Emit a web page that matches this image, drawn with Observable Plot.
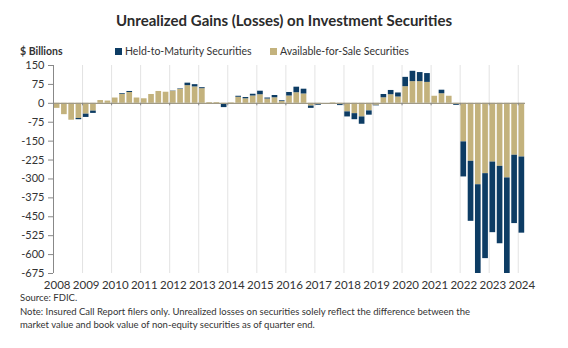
<!DOCTYPE html>
<html>
<head>
<meta charset="utf-8">
<script src="https://cdn.jsdelivr.net/npm/d3@7"></script>
<script src="https://cdn.jsdelivr.net/npm/@observablehq/plot@0.6"></script>
<style>
  html, body { margin: 0; padding: 0; background: #fff; }
  body { width: 568px; height: 348px; position: relative; overflow: hidden; font-family: Lato, "Open Sans", sans-serif; color: #333; }
  .abs { position: absolute; white-space: nowrap; }
  #title { left: 0; width: 568px; top: 11px; text-align: center; font-size: 15px; font-weight: bold; color: #2b2b2b; }
  #units { left: 20px; top: 45px; font-size: 10.5px; font-weight: bold; color: #333; }
  .leg { top: 45px; font-size: 10.5px; color: #333; }
  .sw { display: inline-block; width: 7px; height: 7px; margin-right: 3px; vertical-align: 0px; }
  #chart { position: absolute; left: 0; top: 40px; }
  #source { left: 20px; top: 292px; font-size: 9.5px; color: #333; }
  #note { left: 20px; top: 306px; font-size: 9.5px; line-height: 12.5px; color: #333; }
</style>
</head>
<body>
<div id="title" class="abs">Unrealized Gains (Losses) on Investment Securities</div>
<div id="units" class="abs">$ Billions</div>
<div id="leg1" class="abs leg"><span class="sw" id="sw1"></span>Held-to-Maturity Securities</div>
<div id="leg2" class="abs leg"><span class="sw" id="sw2"></span>Available-for-Sale Securities</div>
<div id="chart"></div>
<div id="source" class="abs">Source: FDIC.</div>
<div id="note" class="abs">Note: Insured Call Report filers only. Unrealized losses on securities solely reflect the difference between the<br>market value and book value of non-equity securities as of quarter end.</div>
<script>
// Quarters, 2008 Q1 – 2024 Q1
const quarters = [
  "2008Q1","2008Q2","2008Q3","2008Q4","2009Q1","2009Q2","2009Q3","2009Q4",
  "2010Q1","2010Q2","2010Q3","2010Q4","2011Q1","2011Q2","2011Q3","2011Q4",
  "2012Q1","2012Q2","2012Q3","2012Q4","2013Q1","2013Q2","2013Q3","2013Q4",
  "2014Q1","2014Q2","2014Q3","2014Q4","2015Q1","2015Q2","2015Q3","2015Q4",
  "2016Q1","2016Q2","2016Q3","2016Q4","2017Q1","2017Q2","2017Q3","2017Q4",
  "2018Q1","2018Q2","2018Q3","2018Q4","2019Q1","2019Q2","2019Q3","2019Q4",
  "2020Q1","2020Q2","2020Q3","2020Q4","2021Q1","2021Q2","2021Q3","2021Q4",
  "2022Q1","2022Q2","2022Q3","2022Q4","2023Q1","2023Q2","2023Q3","2023Q4",
  "2024Q1"
];
// Available-for-Sale unrealized gains (losses), $ billions
const afs = [
  -20, -45, -67, -60,   -43, -31, 11, 9,
  21, 35, 43, 21,       18, 35, 47, 44,
  48, 55, 70, 65,       58, 3, 3, -4,
  2, 24, 18, 29,        34, 17, 22, 7,
  29, 42, 37, -11,      -5, 0, 2, -5,
  -34, -41, -54, -30,   -8, 22, 34, 25,
  66, 86, 86, 83,       28, 38, 28, -2,
  -153, -230, -323, -279, -233, -250, -296, -206,
  -213
];
// Held-to-Maturity unrealized gains (losses), $ billions
const htm = [
  0, 0, 0, -5,          -13, -9, 0, 0,
  0, 3, 4, 0,           0, 0, 0, 0,
  1, 2, 10, 9,          4, 0, 0, -13,
  0, 4, 5, 7,           14, 4, 9, 3,
  14, 22, 19, -9,       -3, 0, 0, -4,
  -20, -24, -29, -17,   -2, 13, 17, 16,
  37, 41, 36, 35,       0, 14, 0, -6,
  -139, -238, -367, -337, -280, -307, -388, -271,
  -302
];
const yTicks = [150, 75, 0, -75, -150, -225, -300, -375, -450, -525, -600, -675];
const yearLabels = [2008,2009,2010,2011,2012,2013,2014,2015,2016,2017,2018,2019,2020,2021,2022,2023,2024];
const seriesNames = ["Held-to-Maturity Securities", "Available-for-Sale Securities"];
const colors = ["#0d3c64", "#c3b27d"];

document.getElementById("sw1").style.background = colors[0];
document.getElementById("sw2").style.background = colors[1];
const leg1 = document.getElementById("leg1"); leg1.style.left = "115px";
const leg2 = document.getElementById("leg2"); leg2.style.left = "270px";

// Build table: time as decimal year of quarter start
const qStart = q => +q.slice(0, 4) + (+q.slice(5) - 1) / 4;
const rows = [];
quarters.forEach((q, i) => {
  const t = qStart(q);
  rows.push({t, t2: t + 0.25, series: seriesNames[1], value: afs[i]});
  rows.push({t, t2: t + 0.25, series: seriesNames[0], value: htm[i]});
});
const gridYears = yearLabels.slice(1);

const chart = Plot.plot({
  width: 568,
  height: 260,
  marginTop: 25,
  marginBottom: 27,
  marginLeft: 53,
  marginRight: 43,
  style: {fontFamily: "Lato, 'Open Sans', sans-serif", color: "#333", background: "transparent"},
  x: {domain: [2008, 2024.25], axis: null},
  y: {domain: [-675, 150], axis: null},
  color: {domain: seriesNames, range: colors},
  marks: [
    Plot.ruleX(gridYears, {x: d => d, stroke: "#e3e3e3", strokeWidth: 1}),
    Plot.rectY(rows, Plot.stackY({
      x1: "t", x2: "t2", y: "value", fill: "series",
      order: [seriesNames[1], seriesNames[0]],
      insetLeft: 0.8, insetRight: 0.8, clip: true
    })),
    Plot.ruleY([0], {stroke: "#a09a86", strokeWidth: 1.2}),
    Plot.ruleX(gridYears, {x: d => d, y1: 0, y2: -10, stroke: "#888"}),
    Plot.ruleX([2008], {stroke: "#888"}),
    Plot.axisY({ticks: yTicks, label: null, tickSize: 5, tickPadding: 4, fontSize: 11, stroke: "#888", fill: "#333", tickFormat: d => String(d)}),
    Plot.axisX({ticks: yearLabels.map(y => y + 0.125), label: null, tickSize: 0, tickPadding: 7, fontSize: 11.5, fill: "#333", tickFormat: d => String(Math.floor(d))})
  ]
});
document.getElementById("chart").appendChild(chart);
</script>
</body>
</html>
